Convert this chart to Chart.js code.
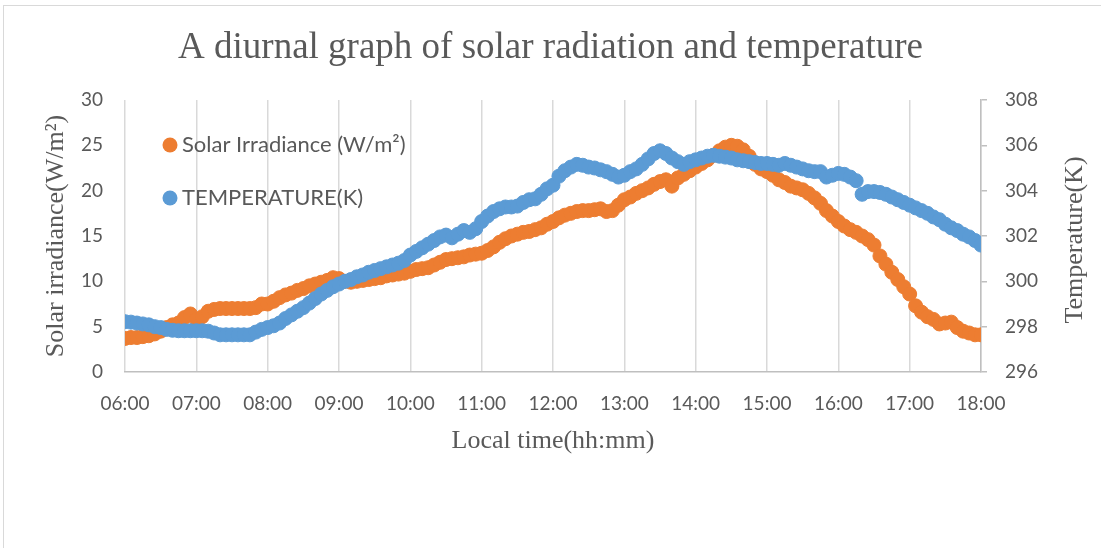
<!DOCTYPE html>
<html>
<head>
<meta charset="utf-8">
<title>Diurnal solar radiation and temperature</title>
<script src="https://cdn.jsdelivr.net/npm/chart.js@4.4.1/dist/chart.umd.min.js"></script>
<style>
  html, body { margin: 0; padding: 0; background: #fff; }
  #wrap { width: 1101px; height: 548px; }
</style>
</head>
<body>
<div id="wrap"><canvas id="diurnalChart" width="1101" height="548"></canvas></div>
<script>
// Readings every 5 minutes from 06:00 to 18:00
const sampleStepMin = 5;

const hourLabels = ['06:00', '07:00', '08:00', '09:00', '10:00', '11:00', '12:00',
                    '13:00', '14:00', '15:00', '16:00', '17:00', '18:00'];

// Solar irradiance (W/m²), one row per hour
const solarIrradiance = [
    3.7, 3.8, 3.8, 3.9, 4.0, 4.2, 4.5, 4.9, 5.2, 5.4, 6.0, 6.4,
    5.8, 6.1, 6.7, 6.9, 7.0, 7.0, 7.0, 7.0, 7.0, 7.0, 7.1, 7.5,
    7.5, 7.8, 8.2, 8.5, 8.7, 9.0, 9.2, 9.5, 9.7, 9.9, 10.1, 10.4,
    10.3, 10.0, 9.9, 10.0, 10.1, 10.2, 10.3, 10.4, 10.6, 10.7, 10.8, 10.9,
    11.1, 11.3, 11.4, 11.5, 11.8, 12.1, 12.4, 12.5, 12.6, 12.7, 12.9, 13.0,
    13.1, 13.4, 13.8, 14.3, 14.7, 15.0, 15.2, 15.4, 15.5, 15.7, 15.9, 16.3,
    16.6, 17.0, 17.3, 17.5, 17.7, 17.8, 17.8, 17.9, 18.0, 17.7, 17.8, 18.4,
    19.0, 19.3, 19.7, 20.0, 20.3, 20.7, 21.0, 21.2, 20.5, 21.4, 21.8, 22.2,
    22.6, 23.0, 23.4, 23.9, 24.4, 24.8, 25.0, 24.9, 24.5, 23.8, 22.9, 22.4,
    22.1, 21.7, 21.2, 20.9, 20.5, 20.3, 20.1, 19.7, 19.2, 18.6, 17.8, 17.2,
    16.6, 16.1, 15.7, 15.4, 15.0, 14.6, 14.0, 12.8, 11.9, 11.0, 10.2, 9.4,
    8.6, 7.3, 6.6, 6.1, 5.8, 5.3, 5.4, 5.5, 4.9, 4.5, 4.3, 4.1,
    4.1
];

// Air temperature (K), one row per hour
const temperatureK = [
    298.22, 298.20, 298.16, 298.12, 298.08, 298.00, 297.96, 297.88, 297.84, 297.82, 297.82, 297.82,
    297.82, 297.82, 297.80, 297.72, 297.64, 297.64, 297.64, 297.64, 297.64, 297.64, 297.76, 297.88,
    297.96, 298.04, 298.16, 298.36, 298.52, 298.68, 298.84, 299.04, 299.24, 299.44, 299.60, 299.76,
    299.88, 300.00, 300.08, 300.20, 300.28, 300.40, 300.48, 300.56, 300.64, 300.72, 300.80, 300.92,
    301.16, 301.32, 301.48, 301.64, 301.80, 301.96, 302.04, 301.92, 302.08, 302.24, 302.16, 302.32,
    302.64, 302.88, 303.08, 303.20, 303.28, 303.28, 303.32, 303.48, 303.60, 303.64, 303.84, 304.08,
    304.24, 304.64, 304.88, 305.04, 305.16, 305.12, 305.04, 305.00, 304.92, 304.84, 304.72, 304.60,
    304.68, 304.84, 304.96, 305.16, 305.40, 305.64, 305.76, 305.64, 305.44, 305.28, 305.16, 305.28,
    305.36, 305.44, 305.52, 305.56, 305.52, 305.48, 305.44, 305.36, 305.32, 305.28, 305.24, 305.20,
    305.20, 305.16, 305.12, 305.20, 305.12, 305.04, 304.96, 304.88, 304.84, 304.84, 304.60, 304.68,
    304.76, 304.72, 304.60, 304.44, 303.84, 303.96, 303.96, 303.92, 303.84, 303.72, 303.60, 303.48,
    303.36, 303.24, 303.12, 303.00, 302.84, 302.72, 302.52, 302.36, 302.24, 302.08, 301.96, 301.80,
    301.60
];

const ORANGE = '#ED7D31';
const BLUE = '#5B9BD5';
const TEXT_GREY = '#595959';
const SANS = "Lato, 'Open Sans', sans-serif";
const SERIF = "'Liberation Serif', 'Times New Roman', serif";

const toPoints = (values) => values.map((v, i) => ({ x: i * sampleStepMin, y: v }));

// White background plus the thin frame round the whole chart
const frameBackground = {
    id: 'frameBackground',
    beforeDraw(chart) {
        const ctx = chart.ctx;
        ctx.save();
        ctx.fillStyle = '#ffffff';
        ctx.fillRect(0, 0, chart.width, chart.height);
        ctx.strokeStyle = '#d9d9d9';
        ctx.lineWidth = 1;
        ctx.strokeRect(3.5, 5.5, chart.width + 20, chart.height + 20);
        ctx.restore();
    }
};

// Legend sits inside the plot, stacked vertically
const legendItems = [
    { text: 'Solar Irradiance (W/m²)', color: ORANGE },
    { text: 'TEMPERATURE(K)', color: BLUE }
];
const insideLegend = {
    id: 'insideLegend',
    afterDraw(chart) {
        const ctx = chart.ctx;
        ctx.save();
        ctx.font = `22px ${SANS}`;
        ctx.textBaseline = 'middle';
        legendItems.forEach((item, i) => {
            const y = 145 + i * 53;
            ctx.fillStyle = item.color;
            ctx.beginPath();
            ctx.arc(170, y, 7.5, 0, Math.PI * 2);
            ctx.fill();
            ctx.fillStyle = TEXT_GREY;
            ctx.fillText(item.text, 182, y);
        });
        ctx.restore();
    }
};

// Right axis title reads bottom-to-top, like the left one
const rightAxisTitle = {
    id: 'rightAxisTitle',
    afterDraw(chart) {
        const ctx = chart.ctx;
        const area = chart.chartArea;
        ctx.save();
        ctx.translate(1075, (area.top + area.bottom) / 2 + 4);
        ctx.rotate(-Math.PI / 2);
        ctx.font = `26px ${SERIF}`;
        ctx.fillStyle = TEXT_GREY;
        ctx.textAlign = 'center';
        ctx.textBaseline = 'middle';
        ctx.fillText('Temperature(K)', 0, 0);
        ctx.restore();
    }
};

new Chart(document.getElementById('diurnalChart'), {
    type: 'scatter',
    data: {
        datasets: [
            {
                label: 'Solar Irradiance (W/m²)',
                data: toPoints(solarIrradiance),
                yAxisID: 'y',
                backgroundColor: ORANGE,
                borderColor: ORANGE,
                pointRadius: 7,
                pointBorderWidth: 1,
                order: 1
            },
            {
                label: 'TEMPERATURE(K)',
                data: toPoints(temperatureK),
                yAxisID: 'y1',
                backgroundColor: BLUE,
                borderColor: BLUE,
                pointRadius: 7,
                pointBorderWidth: 1,
                order: 0
            }
        ]
    },
    options: {
        responsive: false,
        animation: false,
        layout: { padding: 0 },
        plugins: {
            legend: { display: false },
            tooltip: { enabled: false },
            title: {
                display: true,
                text: 'A diurnal graph of solar radiation and temperature',
                color: TEXT_GREY,
                font: { family: SERIF, size: 37, weight: 'normal' },
                padding: { top: 26, bottom: 29.6 }
            }
        },
        scales: {
            x: {
                type: 'linear',
                min: 0,
                max: 720,
                afterFit: (scale) => { scale.height = 176; },
                ticks: {
                    stepSize: 60,
                    color: TEXT_GREY,
                    font: { family: SANS, size: 19 },
                    padding: 20,
                    maxRotation: 0,
                    callback: (value) => hourLabels[Math.round(value / 60)]
                },
                grid: { color: '#d9d9d9', lineWidth: 1.5, drawTicks: false },
                border: { display: true, color: '#bfbfbf', width: 1.5 },
                title: {
                    display: true,
                    text: 'Local time(hh:mm)',
                    color: TEXT_GREY,
                    font: { family: SERIF, size: 26 },
                    padding: { top: 0, bottom: 91 }
                }
            },
            y: {
                position: 'left',
                min: 0,
                max: 30,
                afterFit: (scale) => { scale.width = 125; },
                ticks: {
                    stepSize: 5,
                    color: TEXT_GREY,
                    font: { family: SANS, size: 19 },
                    padding: 22
                },
                grid: { display: false, drawTicks: false },
                border: { display: false },
                title: {
                    display: true,
                    text: 'Solar irradiance(W/m²)',
                    color: TEXT_GREY,
                    font: { family: SERIF, size: 26 },
                    padding: { top: 41, bottom: 0 }
                }
            },
            y1: {
                position: 'right',
                min: 296,
                max: 308,
                afterFit: (scale) => { scale.width = 120; },
                ticks: {
                    stepSize: 2,
                    color: TEXT_GREY,
                    font: { family: SANS, size: 19 },
                    padding: 18
                },
                grid: { display: true, drawOnChartArea: false, drawTicks: true, tickLength: 6, color: '#bfbfbf', lineWidth: 1.5 },
                border: { display: true, color: '#bfbfbf', width: 1.5 }
            }
        }
    },
    plugins: [frameBackground, insideLegend, rightAxisTitle]
});
</script>
</body>
</html>
